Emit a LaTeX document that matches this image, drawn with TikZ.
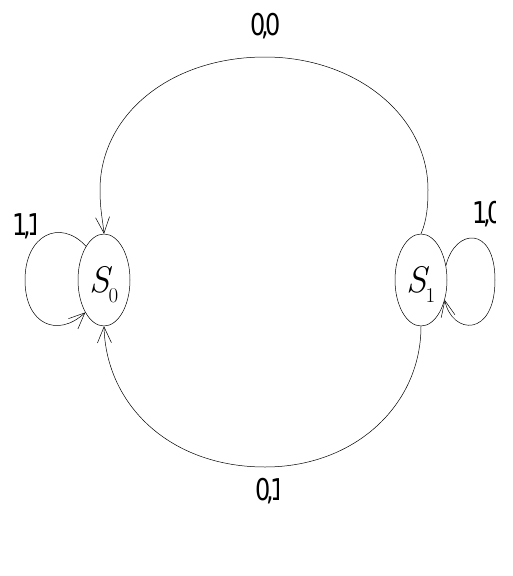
\documentclass[tikz,border=0pt]{standalone}
\usepackage{fontspec}
\usetikzlibrary{shapes.geometric,arrows.meta}
\newfontfamily\labfont[FakeStretch=0.8]{DejaVu Sans}
\newcommand{\stname}[1]{\fontsize{37}{40}\selectfont\textit{S}\kern-4pt\raisebox{-10pt}{\fontsize{21}{24}\selectfont #1}}
\newcommand{\pairlab}[2]{#1\rlap{\kern-4pt,}#2}
\tikzset{
  state/.style={ellipse, draw, line width=0.5pt, minimum width=52pt, minimum height=92pt, inner sep=0pt, text depth=0pt},
  edge/.style={draw, line width=0.5pt, -{Straight Barb[length=16pt,width=14pt,line width=0.5pt]}},
  lab/.style={font=\labfont\fontsize{30}{33}\selectfont, inner sep=0pt, anchor=base west}
}
\begin{document}
\begin{tikzpicture}[x=1pt,y=-1pt]
\useasboundingbox (0,0) rectangle (512,576);
\node[state] (s0) at (104,280) {\raisebox{2pt}{\stname{0}}};
\node[state] (s1) at (421,280) {\raisebox{2pt}{\stname{1}}};
% top arc s1 -> s0
\draw[edge] (s1.north) .. controls (427,220) and (428,205) .. (428,190)
  .. controls (428,115) and (355,57) .. (265,57)
  .. controls (170,57) and (100,115) .. (100,190)
  .. controls (100,210) and (103,222) .. (s0.north);
% bottom arc s1 -> s0
\draw[edge] (s1.south) .. controls (421,405) and (355,467) .. (265,467)
  .. controls (170,467) and (106,405) .. (s0.south);
% self loops
\draw[edge] (s0.118) .. controls (60,218) and (25,235) .. (25,280)
  .. controls (25,325) and (58,338) .. (s0.240);
\draw[edge] (s1.30) .. controls (455,228) and (495,225) .. (495,280)
  .. controls (495,338) and (452,335) .. (s1.-40);
% labels
\begin{scope}
\clip (240,0) rectangle (280,50);
\node[lab] (l00) at (250,35) {\pairlab{0}{0}};
\end{scope}
\begin{scope}
\clip (0,200) rectangle (35,250);
\node[lab] (l11) at (12,235) {\pairlab{1}{1}};
\end{scope}
\begin{scope}
\clip (460,190) rectangle (495,240);
\node[lab] (l10) at (472,223) {\pairlab{1}{0}};
\end{scope}
\begin{scope}
\clip (245,470) rectangle (278,520);
\node[lab] (l01) at (255,500) {\pairlab{0}{1}};
\end{scope}
\end{tikzpicture}
\end{document}
